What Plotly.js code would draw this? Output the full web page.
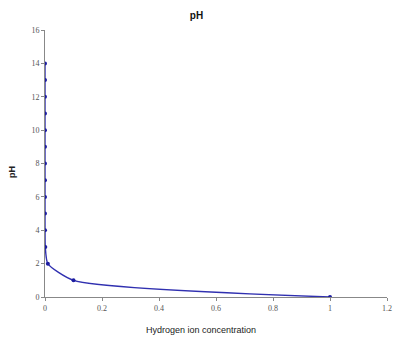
<!DOCTYPE html>
<html><head><meta charset="utf-8">
<script src="https://cdn.plot.ly/plotly-3.0.1.min.js"></script>
<style>html,body{margin:0;padding:0;background:#fff}#c{width:401px;height:341px}</style>
</head><body><div id="c"></div>
<script>
const pH = [0,1,2,3,4,5,6,7,8,9,10,11,12,13,14];
const concentration = [1,0.1,0.01,0.001,0.0001,0.00001,0.000001,0.0000001,0.00000001,0.000000001,0.0000000001,0.00000000001,0.000000000001,0.0000000000001,0.00000000000001];
const xTicks = [0,0.2,0.4,0.6,0.8,1,1.2];
const yTicks = [0,2,4,6,8,10,12,14,16];

const tickFont = {family:'"Liberation Serif", "DejaVu Serif", serif', size:8, color:'#555'};
const labFont = {family:'"Liberation Sans", Arial, sans-serif', size:9, color:'#222'};
Plotly.newPlot('c', [{
  x: concentration, y: pH, type:'scatter', mode:'lines+markers',
  line:{color:'#3030b0', width:1.4, shape:'spline', smoothing:0.6},
  marker:{color:'#1c1ca0', size:4},
  hoverinfo:'none'
}], {
  width:401, height:341,
  margin:{l:45, r:14, t:30, b:44},
  paper_bgcolor:'#fff', plot_bgcolor:'#fff',
  showlegend:false,
  title:{text:'<b>pH</b>', x:0.49, xanchor:'center', y:0.955, yanchor:'middle',
    font:{family:'"Liberation Sans", Arial, sans-serif', size:10, color:'#111'}},
  xaxis:{range:[0,1.2], tickvals:xTicks, ticktext:xTicks.map(String), showgrid:false, zeroline:false,
    showline:true, linecolor:'#888', linewidth:1, ticks:'outside', ticklen:3, tickcolor:'#888',
    tickfont:tickFont},
  yaxis:{range:[0,16], tickvals:yTicks, ticktext:yTicks.map(String), showgrid:false, zeroline:false,
    showline:true, linecolor:'#888', linewidth:1, ticks:'outside', ticklen:3, tickcolor:'#888',
    tickfont:tickFont},
  annotations:[
    {text:'Hydrogen ion concentration', xref:'paper', yref:'paper', x:(201-45)/342, y:-(330-297)/267,
      xanchor:'center', yanchor:'middle', showarrow:false, font:labFont},
    {text:'<b>pH</b>', xref:'paper', yref:'paper', x:-(45-12)/342, y:(297-172)/267,
      xanchor:'center', yanchor:'middle', showarrow:false, textangle:-90, font:labFont}
  ]
}, {staticPlot:true});
</script></body></html>
